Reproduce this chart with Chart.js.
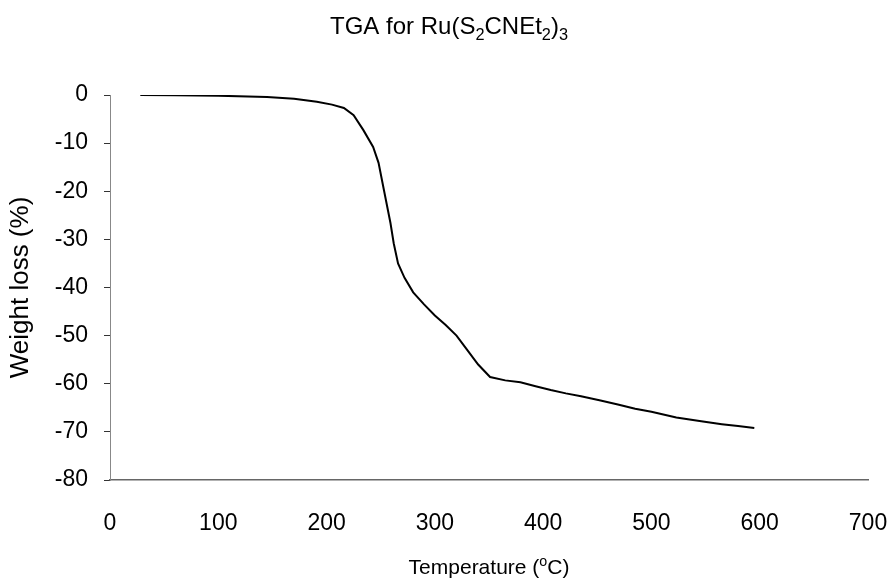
<!DOCTYPE html>
<html>
<head>
<meta charset="utf-8">
<title>TGA for Ru(S2CNEt2)3</title>
<script src="https://cdn.jsdelivr.net/npm/chart.js@4"></script>
<style>
  html, body { margin: 0; padding: 0; background: #fff; }
  #wrap { width: 896px; height: 579px; }
</style>
</head>
<body>
<div id="wrap"><canvas id="tgaChart" width="896" height="579"></canvas></div>
<script>
// temperature (°C) and weight loss (%)
const temperatures = [28, 60, 100, 145, 170, 191, 205, 216, 225, 234, 243, 248, 253, 259, 262, 266, 272, 280, 290, 300,
    310, 320, 330, 340, 351, 365, 379, 393, 407, 421, 435, 453, 469, 485, 500, 523, 546, 565, 580, 595];
const weightLoss = [0, -0.05, -0.15, -0.4, -0.8, -1.4, -2.0, -2.7, -4.2, -7.3, -10.8, -14.1, -19.8, -26.6, -30.8, -35, -38, -41, -43.5, -45.8,
    -47.8, -50, -53, -56, -58.6, -59.3, -59.7, -60.5, -61.3, -62, -62.6, -63.5, -64.3, -65.2, -65.8, -67, -67.8, -68.4, -68.8, -69.2];
const xTicks = [0, 100, 200, 300, 400, 500, 600, 700];
const yTicks = [0, -10, -20, -30, -40, -50, -60, -70, -80];

const FONT = '"Liberation Sans", Arial, sans-serif';

// draws a string made of runs, some of them sub/superscript
function drawRuns(ctx, runs, cx, baseline, size) {
    let total = 0;
    runs.forEach(r => {
        ctx.font = (r.s ? size * 0.68 : size) + 'px ' + FONT;
        r.w = ctx.measureText(r.t).width;
        total += r.w;
    });
    let x = cx - total / 2;
    runs.forEach(r => {
        ctx.font = (r.s ? size * 0.68 : size) + 'px ' + FONT;
        let dy = 0;
        if (r.s === 'sub') dy = size * 0.25;
        if (r.s === 'sup') dy = -size * 0.4;
        ctx.fillText(r.t, x, baseline + dy);
        x += r.w;
    });
}

const textPlugin = {
    id: 'textPlugin',
    afterDraw(chart) {
        const ctx = chart.ctx;
        const area = chart.chartArea;
        ctx.save();
        ctx.fillStyle = '#000';
        ctx.textBaseline = 'alphabetic';
        ctx.textAlign = 'left';
        drawRuns(ctx, [
            { t: 'TGA for Ru(S' }, { t: '2', s: 'sub' }, { t: 'CNEt' }, { t: '2', s: 'sub' }, { t: ')' }, { t: '3', s: 'sub' }
        ], 449, 34, 24);
        drawRuns(ctx, [
            { t: 'Temperature (' }, { t: 'o', s: 'sup' }, { t: 'C)' }
        ], (area.left + area.right) / 2, 574, 21);
        ctx.restore();
    }
};

new Chart(document.getElementById('tgaChart'), {
    type: 'line',
    data: {
        datasets: [{
            label: 'TGA',
            data: temperatures.map((t, i) => ({ x: t, y: weightLoss[i] })),
            borderColor: '#000',
            borderWidth: 2,
            pointRadius: 0,
            tension: 0,
            fill: false
        }]
    },
    plugins: [textPlugin],
    options: {
        responsive: false,
        animation: false,
        layout: { padding: { left: 0, right: 28, top: 95, bottom: 0 } },
        plugins: {
            legend: { display: false },
            tooltip: { enabled: false }
        },
        scales: {
            x: {
                type: 'linear',
                min: 0,
                max: 700,
                afterBuildTicks: s => { s.ticks = xTicks.map(v => ({ value: v })); },
                afterFit: s => { s.height = 99; s.paddingLeft = 0; s.paddingRight = 0; },
                grid: { drawOnChartArea: false, drawTicks: false },
                border: { color: '#666', width: 1.5 },
                ticks: {
                    padding: 30,
                    color: '#000',
                    font: { family: FONT, size: 23 }
                }
            },
            y: {
                min: -80,
                max: 0,
                afterBuildTicks: s => { s.ticks = yTicks.map(v => ({ value: v })); },
                afterFit: s => { s.width = 110; s.paddingTop = 0; s.paddingBottom = 0; },
                grid: { drawOnChartArea: false, tickLength: 6, color: '#333' },
                border: { color: '#888', dash: [2, 3] },
                title: {
                    display: true,
                    text: 'Weight loss (%)',
                    color: '#000',
                    font: { family: FONT, size: 26 },
                    padding: { top: 5, bottom: 0 }
                },
                ticks: {
                    padding: 16,
                    color: '#000',
                    font: { family: FONT, size: 23 }
                }
            }
        }
    }
});
</script>
</body>
</html>
